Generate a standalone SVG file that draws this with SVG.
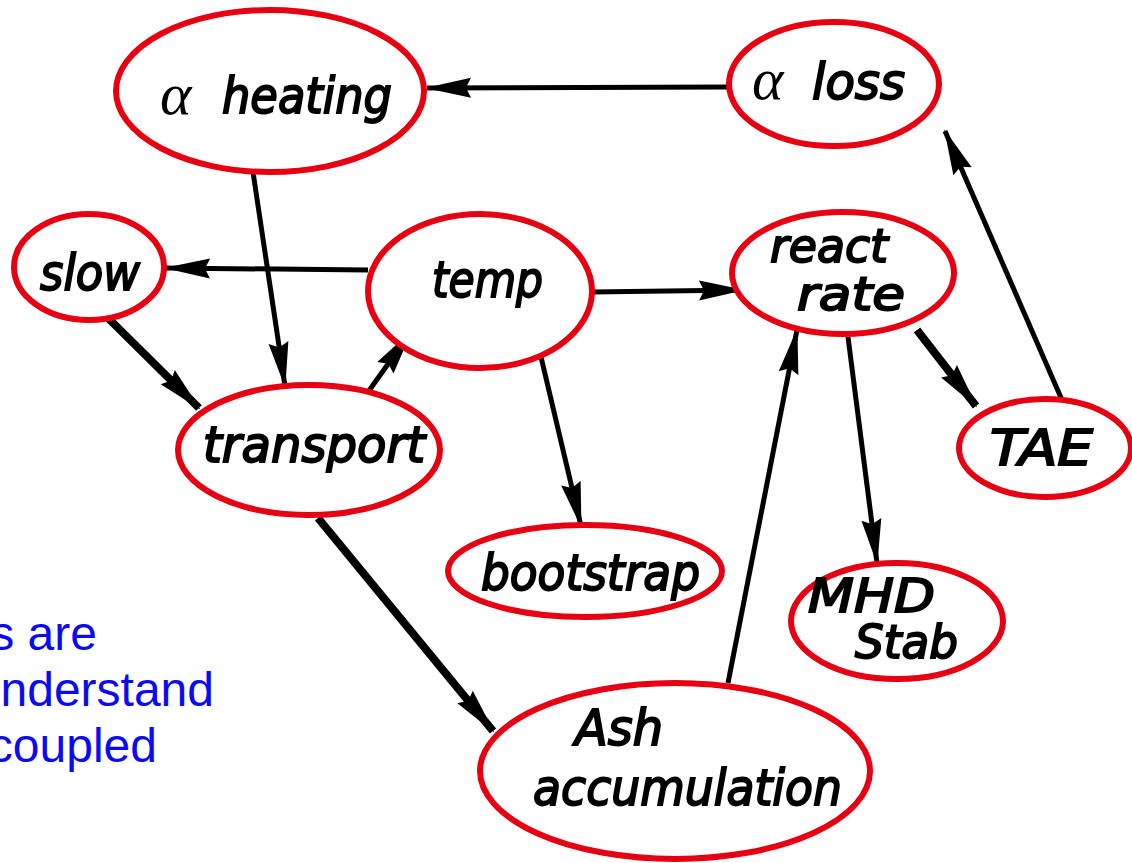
<svg xmlns="http://www.w3.org/2000/svg" width="1132" height="863" viewBox="0 0 1132 863">
  <style>
    .node { fill: #ffffff; stroke: #e60012; stroke-width: 6; }
    .lbl { font-family: 'DejaVu Sans Condensed', 'DejaVu Sans', sans-serif; font-style: oblique; font-weight: normal; font-size: 50px; fill: #000000; stroke: #000000; stroke-width: 1.8; }
    .sm { font-size: 46px; }
    .greek { font-family: 'Liberation Serif', serif; font-style: italic; font-weight: normal; font-size: 60px; fill: #000000; }
    .edge { stroke: #000000; stroke-width: 5; fill: none; marker-end: url(#head); }
    .thick { stroke-width: 8; }
    .note { font-family: 'Liberation Sans', Arial, sans-serif; font-size: 48px; fill: #0a0af5; }
  </style>
  <defs>
    <marker id="head" viewBox="0 0 46 22" refX="44" refY="11" markerWidth="46" markerHeight="22" markerUnits="userSpaceOnUse" orient="auto">
      <path d="M0,1 L46,11 L0,21 L5,11 Z" fill="#000000"/>
    </marker>
  </defs>

  <!-- connectors -->
  <g id="connectors">
    <line class="edge" x1="727" y1="87" x2="427" y2="88"/>
    <line class="edge" x1="253" y1="172" x2="285" y2="386"/>
    <line class="edge" x1="368" y1="270" x2="166" y2="268"/>
    <line class="edge thick" x1="108" y1="318" x2="199" y2="408"/>
    <line class="edge" x1="368" y1="392" x2="411" y2="332"/>
    <line class="edge" x1="592" y1="292" x2="743" y2="290"/>
    <line class="edge" x1="537" y1="340" x2="581" y2="526"/>
    <line class="edge thick" x1="318" y1="518" x2="493" y2="731"/>
    <line class="edge" x1="728" y1="683" x2="797" y2="330"/>
    <line class="edge" x1="848" y1="337" x2="877" y2="563"/>
    <line class="edge thick" x1="917" y1="330" x2="976" y2="406"/>
    <line class="edge" x1="1062" y1="400" x2="945" y2="131"/>
  </g>

  <g id="alpha-heating">
    <ellipse class="node" cx="270" cy="91" rx="154" ry="81"/>
    <text class="greek" x="160" y="114">α</text>
    <text class="lbl" x="222" y="113" textLength="170" lengthAdjust="spacingAndGlyphs">heating</text>
  </g>
  <g id="alpha-loss">
    <ellipse class="node" cx="834" cy="84" rx="105" ry="62"/>
    <text class="greek" x="752" y="99">α</text>
    <text class="lbl" x="812" y="99" textLength="93" lengthAdjust="spacingAndGlyphs">loss</text>
  </g>
  <g id="slow">
    <ellipse class="node" cx="89" cy="267" rx="75" ry="53"/>
    <text class="lbl" x="40" y="290" textLength="100" lengthAdjust="spacingAndGlyphs">slow</text>
  </g>
  <g id="temp">
    <ellipse class="node" cx="480" cy="291" rx="112" ry="77"/>
    <text class="lbl" x="432" y="297" textLength="111" lengthAdjust="spacingAndGlyphs">temp</text>
  </g>
  <g id="react-rate">
    <ellipse class="node" cx="843" cy="273" rx="111" ry="61"/>
    <text class="lbl sm" x="770" y="262" textLength="118" lengthAdjust="spacingAndGlyphs">react</text>
    <text class="lbl sm" x="797" y="310" textLength="108" lengthAdjust="spacingAndGlyphs">rate</text>
  </g>
  <g id="transport">
    <ellipse class="node" cx="309" cy="450" rx="131" ry="65"/>
    <text class="lbl" x="203" y="462" textLength="222" lengthAdjust="spacingAndGlyphs">transport</text>
  </g>
  <g id="tae">
    <ellipse class="node" cx="1045" cy="448" rx="86" ry="49"/>
    <text class="lbl" x="990" y="465" textLength="103" lengthAdjust="spacingAndGlyphs">TAE</text>
  </g>
  <g id="bootstrap">
    <ellipse class="node" cx="585" cy="571" rx="137" ry="46"/>
    <text class="lbl" x="481" y="590" textLength="219" lengthAdjust="spacingAndGlyphs">bootstrap</text>
  </g>
  <g id="mhd-stab">
    <ellipse class="node" cx="897" cy="621" rx="106" ry="58"/>
    <text class="lbl sm" x="808" y="612" textLength="127" lengthAdjust="spacingAndGlyphs">MHD</text>
    <text class="lbl sm" x="855" y="658" textLength="103" lengthAdjust="spacingAndGlyphs">Stab</text>
  </g>
  <g id="ash-accumulation">
    <ellipse class="node" cx="675" cy="771" rx="195" ry="88"/>
    <text class="lbl" x="575" y="745" textLength="88" lengthAdjust="spacingAndGlyphs">Ash</text>
    <text class="lbl" x="533" y="805" textLength="309" lengthAdjust="spacingAndGlyphs">accumulation</text>
  </g>

  <g id="note">
    <text class="note" x="97" y="650" text-anchor="end">s are</text>
    <text class="note" x="214" y="706" text-anchor="end">nderstand</text>
    <text class="note" x="157" y="762" text-anchor="end">coupled</text>
  </g>
</svg>
